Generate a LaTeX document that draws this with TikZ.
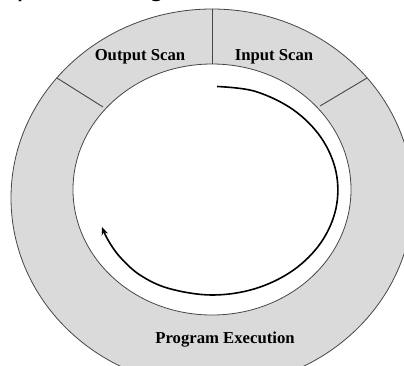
\documentclass[tikz,border=0pt]{standalone}
\usepackage{fontspec}
\setmainfont{Liberation Serif}
\newfontfamily\fragfont{Liberation Sans}
\usetikzlibrary{arrows.meta}
\definecolor{ringgray}{RGB}{218,218,218}
\definecolor{edgegray}{RGB}{70,70,70}
\tikzset{
  ringedge/.style={draw=edgegray, line width=0.8pt},
  divider/.style={draw=edgegray, line width=0.9pt},
  phase/.style={font=\fontsize{16.7}{18}\selectfont\bfseries, text=black, inner sep=0pt},
  cyclearrow/.style={draw=black, line width=1.6pt, -{Stealth[length=8pt,width=6.5pt]}}
}
\begin{document}
\begin{tikzpicture}[x=1pt,y=-1pt]
\useasboundingbox (0,0) rectangle (404,365);
\clip (0,0) rectangle (404,365);
\fill[white] (0,0) rectangle (404,365);
% cropped fragments of a text line above
\node[anchor=base west, inner sep=0pt, font=\fragfont\fontsize{30}{32}\selectfont] (fragA) at (18,-4.5) {),};
\node[anchor=base west, inner sep=0pt, font=\fragfont\fontsize{30}{32}\selectfont] (fragB) at (148,-4.5) {g};
% ring
\path[ringedge, fill=ringgray] (212,198) ellipse [x radius=201pt, y radius=189pt];
\path[ringedge, fill=white] (212,189.5) ellipse [x radius=139pt, y radius=125.5pt];
% dividers
\coordinate (topo) at (212,9);
\coordinate (topi) at (212,64);
\coordinate (lefto) at (57,78);
\coordinate (lefti) at (103,107);
\coordinate (righto) at (367,78);
\coordinate (righti) at (320,106);
\draw[divider] (topo) -- (topi);
\draw[divider] (lefto) -- (lefti);
\draw[divider] (righto) -- (righti);
% labels
\node[phase] (outscan) at (140,57) {Output Scan};
\node[phase] (inscan) at (274,57) {Input Scan};
\node[phase] (progexec) at (225,340) {Program Execution};
% cycle arrow
\draw[cyclearrow] plot[smooth, tension=0.6] coordinates {
  (217,86.5) (255,91.3) (293,109.6) (321,137.5) (336,171.8) (336,208.2)
  (321,242.5) (293,270.4) (255,288.7) (212,295) (169,288.5) (140,275)
  (120,257) (108,240) (102,227)};
\end{tikzpicture}
\end{document}
